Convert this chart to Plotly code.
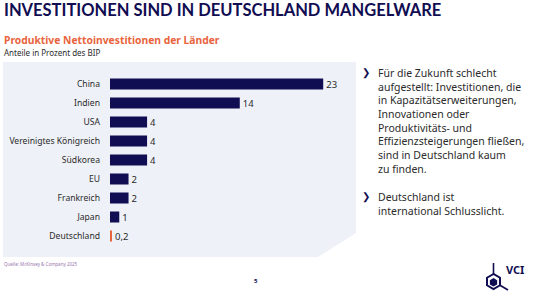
import plotly.graph_objects as go
import math

W, H = 539, 299

countries = ["China", "Indien", "USA", "Vereinigtes Königreich", "Südkorea",
             "EU", "Frankreich", "Japan", "Deutschland"]
values = [23, 14, 4, 4, 4, 2, 2, 1, 0.2]
value_labels = ["23", "14", "4", "4", "4", "2", "2", "1", "0,2"]

NAVY = "#110d52"
ORANGE = "#e8643c"
PANEL = "#eef1f7"
TEXT = "#2b2b2b"

bar_colors = [NAVY] * 8 + [ORANGE]


def px(x):
    return x / W


def py(y):
    return 1 - y / H


fig = go.Figure()
fig.add_trace(go.Bar(
    x=values, y=countries, orientation="h",
    marker=dict(color=bar_colors, line=dict(width=0)),
    text=value_labels, textposition="outside", cliponaxis=False,
    constraintext="none",
    textfont=dict(family="Noto Sans", size=9.5, color=TEXT),
    width=0.58, hoverinfo="skip",
))

# panel shape
pts = [(3, 62), (356, 62), (356, 233), (318, 257), (3, 257)]
path = "M " + " L ".join(f"{px(a):.5f},{py(b):.5f}" for a, b in pts) + " Z"
shapes = [dict(type="path", path=path, xref="paper", yref="paper",
               fillcolor=PANEL, line=dict(width=0), layer="below")]

# VCI logo
cx, cy, r = 493.5, 281.5, 7.5
hexpts = [(cx + r * math.cos(math.radians(90 + 60 * i)), cy - r * math.sin(math.radians(90 + 60 * i))) for i in range(6)]
hpath = "M " + " L ".join(f"{px(a):.5f},{py(b):.5f}" for a, b in hexpts) + " Z"
shapes.append(dict(type="path", path=hpath, xref="paper", yref="paper",
                   fillcolor="white", line=dict(color=NAVY, width=2)))
r2 = 4.2
hexpts2 = [(cx + r2 * math.cos(math.radians(90 + 60 * i)), cy + 0.8 - r2 * math.sin(math.radians(90 + 60 * i))) for i in range(6)]
hpath2 = "M " + " L ".join(f"{px(a):.5f},{py(b):.5f}" for a, b in hexpts2) + " Z"
shapes.append(dict(type="path", path=hpath2, xref="paper", yref="paper",
                   fillcolor=NAVY, line=dict(color=NAVY, width=0)))
shapes.append(dict(type="line", xref="paper", yref="paper",
                   x0=px(cx), y0=py(cy - r), x1=px(cx), y1=py(263),
                   line=dict(color=NAVY, width=1.6)))
vx, vy = cx + r * math.cos(math.radians(-30)), cy - r * math.sin(math.radians(-30))
shapes.append(dict(type="line", xref="paper", yref="paper",
                   x0=px(vx), y0=py(vy), x1=px(508), y1=py(290),
                   line=dict(color=NAVY, width=1.6)))

ann = []
ann.append(dict(text="<b>INVESTITIONEN SIND IN DEUTSCHLAND MANGELWARE</b>",
                x=px(2), y=py(10), xref="paper", yref="paper", xanchor="left", yanchor="middle",
                showarrow=False, font=dict(family="Lato", size=16.5, color=NAVY, weight=900)))
ann.append(dict(text="<b>Produktive Nettoinvestitionen der Länder</b>",
                x=px(2), y=py(40), xref="paper", yref="paper", xanchor="left", yanchor="middle",
                showarrow=False, font=dict(family="Noto Sans", size=10.3, color=ORANGE)))
ann.append(dict(text="Anteile in Prozent des BIP",
                x=px(2), y=py(52), xref="paper", yref="paper", xanchor="left", yanchor="middle",
                showarrow=False, font=dict(family="Noto Sans", size=8, color=TEXT)))

b1 = ["Für die Zukunft schlecht", "aufgestellt: Investitionen, die",
      "in Kapazitätserweiterungen,", "Innovationen oder", "Produktivitäts- und",
      "Effizienzsteigerungen fließen,", "sind in Deutschland kaum", "zu finden."]
b2 = ["Deutschland ist", "international Schlusslicht."]
ann.append(dict(text="<br>".join(b1), x=px(376), y=py(64), xref="paper", yref="paper",
                xanchor="left", yanchor="top", align="left", showarrow=False,
                font=dict(family="Noto Sans", size=10.5, color=TEXT)))
ann.append(dict(text="<br>".join(b2), x=px(376), y=py(188), xref="paper", yref="paper",
                xanchor="left", yanchor="top", align="left", showarrow=False,
                font=dict(family="Noto Sans", size=10.5, color=TEXT)))
for yy in (73, 197):
    ann.append(dict(text="<b>❯</b>", x=px(366), y=py(yy), xref="paper", yref="paper",
                    xanchor="center", yanchor="middle", showarrow=False,
                    font=dict(family="DejaVu Sans", size=10, color=NAVY)))

ann.append(dict(text="Quelle: McKinsey & Company 2025", x=px(2), y=py(264), xref="paper", yref="paper",
                xanchor="left", yanchor="middle", showarrow=False,
                font=dict(family="Noto Sans", size=4.5, color="#9a78b0")))
ann.append(dict(text="<b>5</b>", x=px(256), y=py(281), xref="paper", yref="paper",
                xanchor="center", yanchor="middle", showarrow=False,
                font=dict(family="Noto Sans", size=6, color=NAVY)))
ann.append(dict(text="<b>VCI</b>", x=px(504), y=py(269), xref="paper", yref="paper",
                xanchor="left", yanchor="middle", showarrow=False,
                font=dict(family="Noto Sans", size=11, color=NAVY)))

fig.update_layout(
    width=W, height=H, margin=dict(l=0, r=0, t=0, b=0),
    paper_bgcolor="white", plot_bgcolor="rgba(0,0,0,0)",
    showlegend=False, shapes=shapes, annotations=ann,
    xaxis=dict(domain=[px(110), px(356)], range=[0, (356 - 110) / 9.27],
               showgrid=False, zeroline=False, showticklabels=False, fixedrange=True),
    yaxis=dict(domain=[py(245.5), py(74.5)], autorange="reversed",
               showgrid=False, zeroline=False, ticklabelstandoff=9,
               tickfont=dict(family="Noto Sans", size=8.6, color=TEXT), fixedrange=True),
)

fig.write_html("out.html", config={"displayModeBar": False})
